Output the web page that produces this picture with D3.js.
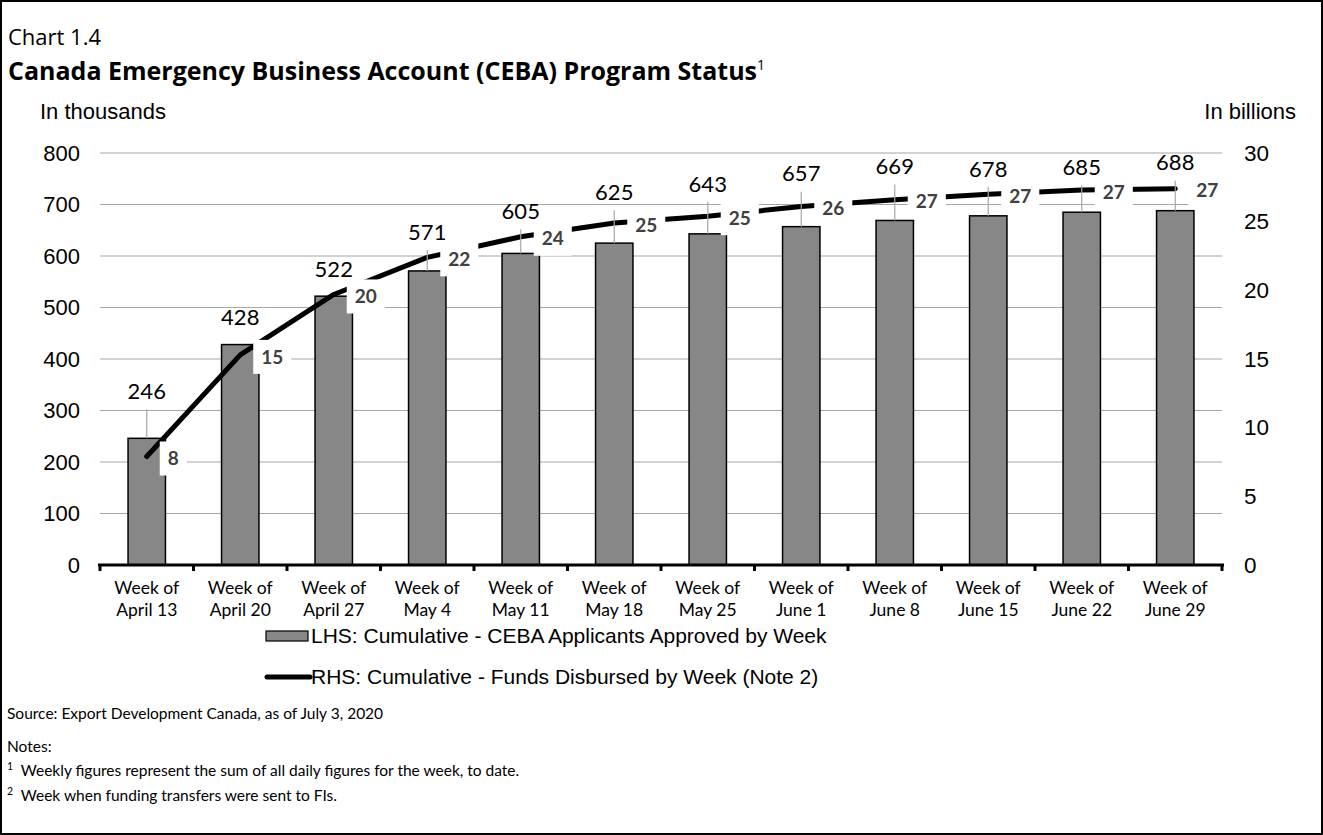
<!DOCTYPE html>
<html><head><meta charset="utf-8">
<script src="https://cdn.jsdelivr.net/npm/d3@7"></script>
<style>body{margin:0;background:#fff} svg{display:block}</style>
</head><body><svg id="c" width="1323" height="835"></svg>
<script>
// ---- data ----
const weekLine1 = ["Week of","Week of","Week of","Week of","Week of","Week of","Week of","Week of","Week of","Week of","Week of","Week of"];
const weekLine2 = ["April 13","April 20","April 27","May 4","May 11","May 18","May 25","June 1","June 8","June 15","June 22","June 29"];
const applicants = [246,428,522,571,605,625,643,657,669,678,685,688];       // thousands (LHS)
const funds = [7.9,15.3,19.7,22.4,23.9,24.9,25.4,26.1,26.6,27.0,27.3,27.4]; // billions (RHS)
const leftTicks = [0,100,200,300,400,500,600,700,800];
const rightTicks = [0,5,10,15,20,25,30];
const titleText = "Canada Emergency Business Account (CEBA) Program Status";
const legendBar = "LHS: Cumulative - CEBA Applicants Approved by Week";
const legendLine = "RHS: Cumulative - Funds Disbursed by Week (Note 2)";
// label placement (style, not data)
const barLabelOffsets = [-47,-27,-27,-39,-42,-51,-50,-53,-54,-47,-45,-48];

const svg = d3.select("#c");
const W = 1323, H = 835;
const X0 = 100, X1 = 1222, YT = 153, YB = 565;
const cats = weekLine2.map((d,i)=>i);

svg.append("rect").attr("x",1).attr("y",1).attr("width",W-2).attr("height",H-2)
  .attr("fill","#fff").attr("stroke","#000").attr("stroke-width",2);

const x = d3.scaleBand().domain(cats).range([X0, X1]).paddingInner(0.6).paddingOuter(0.3);
const xb = d3.scaleBand().domain(cats).range([X0, X1]);
const yL = d3.scaleLinear().domain([0,800]).range([YB, YT]);
const yR = d3.scaleLinear().domain([0,30]).range([YB, YT]);

// titles
svg.append("text").attr("x",8).attr("y",45).attr("font-family","Open Sans").attr("font-size",22)
  .text("Chart 1.4");
const t = svg.append("text").attr("x",8).attr("y",80).attr("font-family","Open Sans").attr("font-size",25).attr("font-weight","bold");
t.append("tspan").text(titleText);
t.append("tspan").attr("font-size",14).attr("font-weight","normal").attr("dy",-10).text("1");

svg.append("text").attr("x",40).attr("y",119).attr("font-family","Liberation Sans").attr("font-size",22).text("In thousands");
svg.append("text").attr("x",1296).attr("y",119).attr("text-anchor","end").attr("font-family","Liberation Sans").attr("font-size",22).text("In billions");

// gridlines
svg.append("g").selectAll("line").data(leftTicks.filter(d=>d>0)).join("line")
  .attr("x1",X0).attr("x2",X1).attr("y1",d=>yL(d)).attr("y2",d=>yL(d))
  .attr("stroke","#a6a6a6").attr("stroke-width",1.2);

// left axis labels
svg.append("g").attr("transform",`translate(${X0-20},0)`)
  .call(d3.axisLeft(yL).tickValues(leftTicks).tickSize(0).tickPadding(0))
  .call(g=>{g.select(".domain").remove(); g.selectAll("text").attr("font-family","Liberation Sans").attr("font-size",22).attr("fill","#000");});
// right axis labels
svg.append("g").attr("transform",`translate(${X1+22},0)`)
  .call(d3.axisRight(yR).tickValues(rightTicks).tickSize(0).tickPadding(0))
  .call(g=>{g.select(".domain").remove(); g.selectAll("text").attr("font-family","Liberation Sans").attr("font-size",22.5).attr("fill","#000");});

// bars
svg.append("g").selectAll("rect").data(applicants).join("rect")
  .attr("x",(d,i)=>x(i)).attr("width",x.bandwidth())
  .attr("y",d=>yL(d)).attr("height",d=>YB-yL(d))
  .attr("fill","#878787").attr("stroke","#000").attr("stroke-width",1.5);

// line
const cx = i => xb(i) + xb.bandwidth()/2;
svg.append("path").datum(funds)
  .attr("d", d3.line().x((d,i)=>cx(i)).y(d=>yR(d)))
  .attr("fill","none").attr("stroke","#000").attr("stroke-width",5)
  .attr("stroke-linecap","round").attr("stroke-linejoin","round");

// x axis
svg.append("line").attr("x1",X0-2).attr("x2",X1+2).attr("y1",YB).attr("y2",YB).attr("stroke","#000").attr("stroke-width",3);
svg.append("g").selectAll("line").data(d3.range(cats.length+1)).join("line")
  .attr("x1",i=> i<cats.length ? xb(i) : X1).attr("x2",i=> i<cats.length ? xb(i) : X1)
  .attr("y1",YB).attr("y2",YB+6).attr("stroke","#000").attr("stroke-width",3);
const xl = svg.append("g").selectAll("text").data(cats).join("text")
  .attr("x",i=>cx(i)).attr("text-anchor","middle").attr("font-family","Lato").attr("font-size",17.5);
xl.append("tspan").attr("x",i=>cx(i)).attr("y",594).text(i=>weekLine1[i]);
xl.append("tspan").attr("x",i=>cx(i)).attr("y",616).text(i=>weekLine2[i]);

// line labels with white boxes
const fl = svg.append("g");
funds.forEach((v,i)=>{
  const px = cx(i), py = yR(v);
  const g = fl.append("g");
  const txt = g.append("text").attr("x",px+21).attr("y",py+2).attr("dy","0.35em")
    .attr("font-family","Lato").attr("font-weight","bold").attr("font-size",19).attr("fill","#404040")
    .text(d3.format(".0f")(v));
  const w = txt.node().getComputedTextLength();
  g.insert("rect","text").attr("x",px+13).attr("y",py+2-17).attr("width",w+16).attr("height",34).attr("fill","#fff");
});

// bar labels with leader lines
const bl = svg.append("g");
applicants.forEach((v,i)=>{
  const top = yL(v), ly = top + barLabelOffsets[i];
  if (top - (ly+18) > 10) {
    bl.append("line").attr("x1",cx(i)).attr("x2",cx(i)).attr("y1",ly+18).attr("y2",top)
      .attr("stroke","#a6a6a6").attr("stroke-width",1.2);
  }
  bl.append("text").attr("x",cx(i)).attr("y",ly).attr("dy","0.35em").attr("text-anchor","middle")
    .attr("font-family","Lato").attr("font-size",22).text(v);
});

// legend
svg.append("rect").attr("x",266).attr("y",631).attr("width",42).attr("height",10)
  .attr("fill","#878787").attr("stroke","#000").attr("stroke-width",1.2);
svg.append("text").attr("x",311).attr("y",636).attr("dy","0.35em").attr("font-family","Liberation Sans").attr("font-size",21).text(legendBar);
svg.append("line").attr("x1",267).attr("x2",310).attr("y1",677).attr("y2",677).attr("stroke","#000").attr("stroke-width",5).attr("stroke-linecap","round");
svg.append("text").attr("x",311).attr("y",677).attr("dy","0.35em").attr("font-family","Liberation Sans").attr("font-size",21).text(legendLine);

// source & notes
const ff = "Lato", fs = 15.5;
svg.append("text").attr("x",7).attr("y",719).attr("font-family",ff).attr("font-size",fs).text("Source: Export Development Canada, as of July 3, 2020");
svg.append("text").attr("x",7).attr("y",752).attr("font-family",ff).attr("font-size",fs).text("Notes:");
const n1 = svg.append("text").attr("x",7).attr("y",776).attr("font-family",ff).attr("font-size",fs);
n1.append("tspan").attr("font-size",10.5).attr("dy",-6).text("1");
n1.append("tspan").attr("dy",6).text("\u00a0 Weekly figures represent the sum of all daily figures for the week, to date.");
const n2 = svg.append("text").attr("x",7).attr("y",801).attr("font-family",ff).attr("font-size",fs);
n2.append("tspan").attr("font-size",10.5).attr("dy",-6).text("2");
n2.append("tspan").attr("dy",6).text("\u00a0 Week when funding transfers were sent to FIs.");
</script></body></html>
